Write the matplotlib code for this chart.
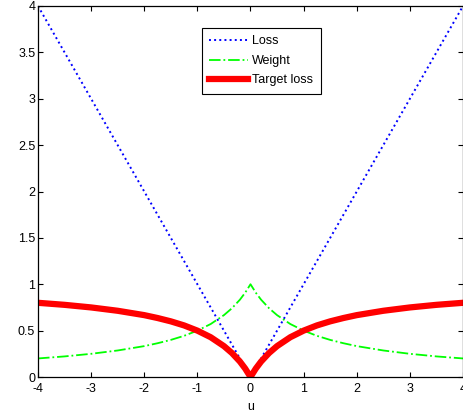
import numpy as np
import matplotlib
matplotlib.use('Agg')
import matplotlib.pyplot as plt

plt.rcParams['font.family'] = ['Liberation Sans', 'DejaVu Sans']

# sample points
u = [-4, -3.5, -3, -2.5, -2, -1.75, -1.5, -1.25, -1, -0.75, -0.5, -0.35, -0.2, -0.1, 0,
     0.1, 0.2, 0.35, 0.5, 0.75, 1, 1.25, 1.5, 1.75, 2, 2.5, 3, 3.5, 4]
loss = [4, 3.5, 3, 2.5, 2, 1.75, 1.5, 1.25, 1, 0.75, 0.5, 0.35, 0.2, 0.1, 0,
        0.1, 0.2, 0.35, 0.5, 0.75, 1, 1.25, 1.5, 1.75, 2, 2.5, 3, 3.5, 4]
weight = [0.2, 0.222, 0.25, 0.286, 0.333, 0.364, 0.4, 0.444, 0.5, 0.571, 0.667, 0.741, 0.833, 0.909, 1.0,
          0.909, 0.833, 0.741, 0.667, 0.571, 0.5, 0.444, 0.4, 0.364, 0.333, 0.286, 0.25, 0.222, 0.2]
target = [0.8, 0.778, 0.75, 0.714, 0.667, 0.636, 0.6, 0.556, 0.5, 0.429, 0.333, 0.259, 0.167, 0.091, 0,
          0.091, 0.167, 0.259, 0.333, 0.429, 0.5, 0.556, 0.6, 0.636, 0.667, 0.714, 0.75, 0.778, 0.8]

xticks = [-4, -3, -2, -1, 0, 1, 2, 3, 4]
yticks = [0, 0.5, 1, 1.5, 2, 2.5, 3, 3.5, 4]

fig = plt.figure(figsize=(4.64, 4.17), dpi=100)
ax = fig.add_axes([38 / 464, 1 - 377 / 417, 425 / 464, 371 / 417])

ax.plot(u, loss, color='blue', linestyle=':', linewidth=1.4, label='Loss')
ax.plot(u, weight, color='#00ff00', linestyle='-.', linewidth=1.3, label='Weight')
ax.plot(u, target, color='red', linestyle='-', linewidth=4.5, label='Target loss')

ax.set_xlim(-4, 4)
ax.set_ylim(0, 4)
ax.set_xticks(xticks)
ax.set_yticks(yticks)
ax.set_xticklabels([f'{t:g}' for t in xticks])
ax.set_yticklabels([f'{t:g}' for t in yticks])
ax.tick_params(direction='in', top=True, right=True, labelsize=9, length=3.5, width=0.8)
ax.tick_params(axis='x', pad=4.5)
ax.tick_params(axis='y', pad=2)
for s in ax.spines.values():
    s.set_linewidth(0.9)
ax.set_xlabel('u', fontsize=9, labelpad=4)

leg = ax.legend(loc='upper left', bbox_to_anchor=(164 / 425, 1 - 22 / 371), fontsize=9,
                fancybox=False, edgecolor='black', framealpha=1, handlelength=3.1,
                borderpad=0.6, labelspacing=0.6, handletextpad=0.3, borderaxespad=0)
leg.get_frame().set_linewidth(0.8)

fig.savefig('out.png', dpi=100)
